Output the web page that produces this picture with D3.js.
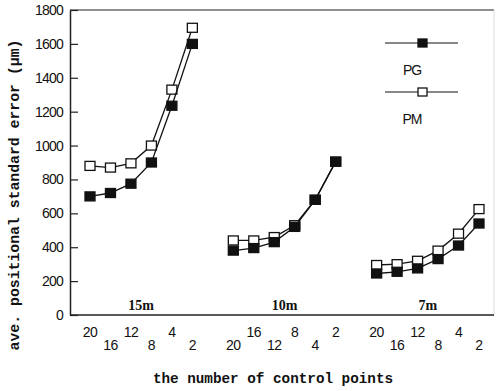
<!DOCTYPE html>
<html>
<head>
<meta charset="utf-8">
<script src="https://cdn.jsdelivr.net/npm/d3@7"></script>
<style>
  body { margin: 0; background: #fff; }
  svg { display: block; }
</style>
</head>
<body>
<div id="chart"></div>
<script>
// number of control points, per height group
const points = [20, 16, 12, 8, 4, 2];
const groups = ['15m', '10m', '7m'];
const yTicks = [0, 200, 400, 600, 800, 1000, 1200, 1400, 1600, 1800];

// ave. positional standard error (um)
const pg = [
    [700, 720, 775, 900, 1235, 1600],   // 15m
    [380, 395, 430, 520, 680, 905],     // 10m
    [245, 255, 275, 330, 410, 540],     // 7m
];
const pm = [
    [880, 870, 895, 1000, 1330, 1695],
    [440, 440, 460, 530, 680, 905],
    [295, 300, 320, 380, 480, 625],
];

let width = 496, height = 391;
let mLeft = 70, mTop = 10, mRight = 494, mBottom = 315;

let svg = d3.select('#chart')
    .append('svg')
    .attr('width', width)
    .attr('height', height);

// each group takes 6 slots, one empty slot between groups
let x = d3.scaleLinear().domain([0, 19]).range([90, 479]);
let y = d3.scaleLinear().domain([0, 1800]).range([mBottom, mTop]);
let pos = (g, i) => g * 7 + i;

//框線
svg.append('line')
    .attr('x1', mLeft).attr('x2', mRight)
    .attr('y1', mTop).attr('y2', mTop)
    .style('stroke', '#222').style('stroke-width', 1.2);
svg.append('line')
    .attr('x1', mRight).attr('x2', mRight)
    .attr('y1', mTop).attr('y2', mBottom)
    .style('stroke', '#ddd').style('stroke-width', 1);
svg.append('line')
    .attr('x1', mLeft).attr('x2', mRight)
    .attr('y1', mBottom).attr('y2', mBottom)
    .style('stroke', '#222').style('stroke-width', 1.5);

// y axis, ticks pointing inward
let yAxis = svg.append('g')
    .attr('transform', `translate(${mLeft},0)`)
    .call(d3.axisLeft(y).tickValues(yTicks).tickFormat(d3.format('d'))
        .tickSizeInner(-8).tickSizeOuter(0).tickPadding(7));
yAxis.select('.domain').style('stroke', '#222').style('stroke-width', 1.5);
yAxis.selectAll('.tick line').style('stroke', '#222').style('stroke-width', 1.2);
yAxis.selectAll('.tick text')
    .style('font-family', '"Liberation Sans", Arial, sans-serif')
    .style('font-size', '14px')
    .style('letter-spacing', '-0.8px')
    .style('fill', '#111');

// x tick labels, staggered in two rows
let xt = svg.append('g');
groups.forEach((gname, g) => {
    points.forEach((p, i) => {
        xt.append('text')
            .attr('x', x(pos(g, i)))
            .attr('y', (g + i) % 2 === 0 ? 337 : 350)
            .style('text-anchor', 'middle')
            .style('font-family', '"Liberation Sans", Arial, sans-serif')
            .style('font-size', '14px')
            .style('letter-spacing', '-0.5px')
            .style('fill', '#111')
            .text(p);
    });
    //組別字
    svg.append('text')
        .attr('x', x(pos(g, 2.5)))
        .attr('y', 310)
        .style('text-anchor', 'middle')
        .style('font-family', '"Liberation Serif", serif')
        .style('font-weight', 'bold')
        .style('font-size', '14px')
        .style('fill', '#111')
        .text(gname);
});

let line = d3.line();

function drawSeries(data, filled) {
    let s = svg.append('g');
    data.forEach((vals, g) => {
        let pts = vals.map((v, i) => [x(pos(g, i)), y(v)]);
        s.append('path')
            .attr('d', line(pts))
            .style('fill', 'none')
            .style('stroke', '#111')
            .style('stroke-width', 1.3);
        s.selectAll(null)
            .data(pts)
            .enter()
            .append('rect')
            .attr('x', d => d[0] - 5)
            .attr('y', d => d[1] - 4.5)
            .attr('width', 10)
            .attr('height', 9)
            .style('fill', filled ? '#111' : '#fff')
            .style('stroke', '#111')
            .style('stroke-width', 1.3);
    });
}
drawSeries(pm, false);
drawSeries(pg, true);

// legend
let legend = [['PG', true, 43], ['PM', false, 92]];
legend.forEach(([name, filled, ly]) => {
    svg.append('line')
        .attr('x1', 385).attr('x2', 458)
        .attr('y1', ly).attr('y2', ly)
        .style('stroke', '#111').style('stroke-width', 1.2);
    svg.append('rect')
        .attr('x', 418).attr('y', ly - 4)
        .attr('width', 9).attr('height', 8)
        .style('fill', filled ? '#111' : '#fff')
        .style('stroke', '#111').style('stroke-width', 1.3);
    svg.append('text')
        .attr('x', 412).attr('y', ly + 32)
        .style('text-anchor', 'middle')
        .style('font-family', '"Liberation Sans", Arial, sans-serif')
        .style('font-size', '14px')
        .style('letter-spacing', '-1px')
        .style('fill', '#111')
        .text(name);
});

// axis titles
svg.append('text')
    .attr('x', 273).attr('y', 383)
    .style('text-anchor', 'middle')
    .style('font-family', '"Liberation Mono", "Courier New", monospace')
    .style('font-weight', 'bold')
    .style('font-size', '14.3px')
    .style('fill', '#111')
    .text('the number of control points');

svg.append('text')
    .attr('transform', 'translate(19,195) rotate(-90)')
    .style('text-anchor', 'middle')
    .style('font-family', '"Liberation Mono", "Courier New", monospace')
    .style('font-weight', 'bold')
    .style('font-size', '14.8px')
    .style('fill', '#111')
    .text('ave. positional standard error (\u03bcm)');
</script>
</body>
</html>
